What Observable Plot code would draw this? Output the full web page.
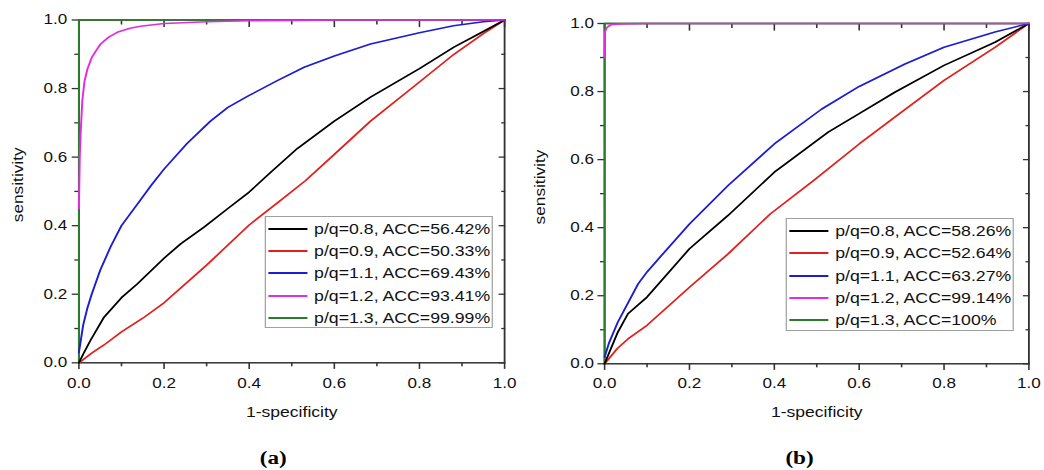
<!DOCTYPE html>
<html>
<head>
<meta charset="utf-8">
<script src="https://cdn.jsdelivr.net/npm/d3@7"></script>
<script src="https://cdn.jsdelivr.net/npm/@observablehq/plot@0.6"></script>
<style>
  html, body { margin: 0; padding: 0; background: #fff; }
  #stage { position: relative; width: 855.74px; height: 470px; transform: scaleX(1.22); transform-origin: 0 0;
           font-family: "Liberation Sans", Arial, sans-serif; color: #111; }
  .panel { position: absolute; top: 0; }
  .legend { position: absolute; border: 1px solid #a0a0a0; background: #fff; box-sizing: border-box; }
  .legend .row { position: absolute; left: 0; height: 22px; display: flex; align-items: center; white-space: nowrap; }
  .legend .sw { display: inline-block; height: 0; border-top: 2px solid #000; }
  .legend .tx { font-size: 14.5px; line-height: 22px; }
</style>
</head>
<body>
<div id="stage"></div>
<script>
// ---------- data ----------
const seriesNames = ["p/q=0.8", "p/q=0.9", "p/q=1.1", "p/q=1.2", "p/q=1.3"];
const accA = ["56.42%", "50.33%", "69.43%", "93.41%", "99.99%"];
const accB = ["58.26%", "52.64%", "63.27%", "99.14%", "100%"];
const majorTicks = [0, 0.2, 0.4, 0.6, 0.8, 1.0];
const minorTicks = [0.1, 0.3, 0.5, 0.7, 0.9];

// panel (a): 1-specificity (fpr) and sensitivity (tpr)
const a08_x = [0, 0.01, 0.027, 0.059, 0.1, 0.137, 0.2, 0.239, 0.294, 0.35, 0.4, 0.45, 0.513, 0.6, 0.685, 0.8, 0.881, 0.94, 1];
const a08_y = [0, 0.025, 0.065, 0.133, 0.19, 0.23, 0.305, 0.347, 0.396, 0.45, 0.498, 0.555, 0.625, 0.705, 0.775, 0.858, 0.921, 0.96, 1];
const a09_x = [0, 0.03, 0.059, 0.1, 0.15, 0.2, 0.3, 0.4, 0.47, 0.532, 0.6, 0.685, 0.8, 0.881, 0.95, 1];
const a09_y = [0, 0.028, 0.052, 0.09, 0.13, 0.175, 0.285, 0.402, 0.47, 0.531, 0.608, 0.705, 0.819, 0.9, 0.96, 1];
const a11_x = [0, 0.01, 0.02, 0.03, 0.05, 0.075, 0.1, 0.137, 0.17, 0.2, 0.254, 0.309, 0.35, 0.4, 0.466, 0.529, 0.6, 0.685, 0.8, 0.88, 0.95, 1];
const a11_y = [0.03, 0.11, 0.16, 0.2, 0.27, 0.34, 0.4, 0.462, 0.518, 0.565, 0.64, 0.705, 0.745, 0.78, 0.823, 0.862, 0.895, 0.93, 0.963, 0.983, 0.995, 1];
const a12_x = [0, 0.002, 0.004, 0.008, 0.013, 0.02, 0.03, 0.04, 0.051, 0.07, 0.09, 0.12, 0.145, 0.2, 0.3, 0.4, 0.5, 0.6, 1];
const a12_y = [0.45, 0.6, 0.668, 0.765, 0.82, 0.857, 0.89, 0.91, 0.93, 0.95, 0.964, 0.976, 0.982, 0.99, 0.995, 0.998, 0.999, 1, 1];
const a13_x = [0, 0, 1];
const a13_y = [0, 1, 1];

// panel (b)
const b08_x = [0, 0.01, 0.03, 0.055, 0.1, 0.2, 0.291, 0.4, 0.428, 0.527, 0.6, 0.684, 0.8, 0.92, 1];
const b08_y = [0, 0.03, 0.09, 0.147, 0.196, 0.338, 0.436, 0.563, 0.589, 0.681, 0.735, 0.798, 0.877, 0.945, 1];
const b09_x = [0, 0.01, 0.03, 0.055, 0.1, 0.2, 0.291, 0.391, 0.493, 0.6, 0.684, 0.8, 0.92, 1];
const b09_y = [0, 0.015, 0.045, 0.073, 0.113, 0.225, 0.323, 0.441, 0.539, 0.646, 0.725, 0.833, 0.93, 1];
const b11_x = [0, 0.01, 0.02, 0.031, 0.079, 0.1, 0.134, 0.2, 0.291, 0.4, 0.511, 0.6, 0.708, 0.8, 0.92, 1];
const b11_y = [0.02, 0.06, 0.09, 0.122, 0.235, 0.27, 0.318, 0.411, 0.524, 0.646, 0.748, 0.815, 0.881, 0.93, 0.975, 1];
const b12_x = [0, 0.001, 0.004, 0.009, 0.017, 0.04, 0.1, 1];
const b12_y = [0.9, 0.975, 0.986, 0.992, 0.997, 0.999, 1, 1];
const b13_x = [0, 0, 1];
const b13_y = [0, 1, 1];

// ---------- styling ----------
const seriesColors = ["#000000", "#e0211d", "#1c1cd2", "#e22be2", "#2b7d2b"];
const drawOrder = [4, 1, 0, 2, 3];
const axisColor = "#333333";
const textColor = "#111111";

const stage = document.getElementById("stage");

function makePanel(xs, ys, cfg) {
  const rows = xs.flatMap((xa, i) => xa.map((x, j) => ({s: i, fpr: x, tpr: ys[i][j]})));
  const lines = drawOrder.map(i =>
    Plot.line(rows.filter(r => r.s === i), {x: "fpr", y: "tpr", stroke: seriesColors[i], strokeWidth: 1.6})
  );
  const fmt = d3.format(".1f");
  const chart = Plot.plot({
    width: cfg.width,
    height: 470,
    marginLeft: cfg.ml, marginRight: cfg.mr, marginTop: cfg.mt, marginBottom: 470 - cfg.bottom,
    x: {domain: [0, 1]},
    y: {domain: [0, 1]},
    style: {fontFamily: '"Liberation Sans", Arial, sans-serif', fontSize: "14px", background: "transparent", overflow: "visible", color: textColor},
    marks: [
      Plot.frame({stroke: axisColor, strokeWidth: 1.5}),
      Plot.axisX({anchor: "bottom", ticks: majorTicks, tickSize: 6.6, tickPadding: cfg.xpad, tickFormat: fmt, label: null, stroke: axisColor, strokeWidth: 1.3, fill: textColor, fontSize: 14}),
      Plot.axisX({anchor: "bottom", ticks: minorTicks, tickSize: 4, fill: "none", label: null, stroke: axisColor, strokeWidth: 1.3}),
      Plot.axisX({anchor: "top", ticks: majorTicks, tickSize: -6.6, fill: "none", label: null, stroke: axisColor, strokeWidth: 1.3}),
      Plot.axisX({anchor: "top", ticks: minorTicks, tickSize: -4, fill: "none", label: null, stroke: axisColor, strokeWidth: 1.3}),
      Plot.axisY({anchor: "left", ticks: majorTicks, tickSize: 5.4, tickPadding: cfg.ypad, tickFormat: fmt, label: null, stroke: axisColor, strokeWidth: 1.3, fill: textColor, fontSize: 14}),
      Plot.axisY({anchor: "left", ticks: minorTicks, tickSize: 3.3, fill: "none", label: null, stroke: axisColor, strokeWidth: 1.3}),
      Plot.axisY({anchor: "right", ticks: majorTicks, tickSize: -5.4, fill: "none", label: null, stroke: axisColor, strokeWidth: 1.3}),
      Plot.axisY({anchor: "right", ticks: minorTicks, tickSize: -3.3, fill: "none", label: null, stroke: axisColor, strokeWidth: 1.3}),
      ...lines,
      Plot.text(["1-specificity"], {text: d => d, frameAnchor: "bottom", dy: cfg.xlabDy, textAnchor: "middle", lineAnchor: "middle", fontSize: 14.4, fill: textColor}),
      Plot.text(["sensitivity"], {text: d => d, frameAnchor: "left", dx: cfg.ylabDx, dy: -6.6, rotate: -90, textAnchor: "middle", lineAnchor: "middle", fontSize: 14.4, fill: textColor}),
      Plot.text([cfg.caption], {text: d => d, frameAnchor: "bottom", dx: cfg.capDx, dy: cfg.capDy, textAnchor: "middle", lineAnchor: "middle",
        fontFamily: '"Liberation Serif", "Times New Roman", serif', fontWeight: "bold", fontSize: 19, fill: "#000"})
    ]
  });
  // the rotated label keeps its wide glyphs along its own direction
  chart.querySelectorAll("text").forEach(t => {
    if (t.textContent === "sensitivity") {
      const tr = t.getAttribute("transform") || "";
      t.setAttribute("transform", tr + " scale(1.2, 0.82)");
    }
  });
  const holder = document.createElement("div");
  holder.className = "panel";
  holder.style.left = cfg.left + "px";
  holder.appendChild(chart);
  stage.appendChild(holder);

  // legend
  const lg = document.createElement("div");
  lg.className = "legend";
  lg.style.left = cfg.lgLeft + "px";
  lg.style.top = cfg.lgTop + "px";
  lg.style.width = "187.1px";
  lg.style.height = "112.4px";
  seriesNames.forEach((name, i) => {
    const row = document.createElement("div");
    row.className = "row";
    row.style.top = (12 + i * 22.2 - 11) + "px";
    const sw = document.createElement("span");
    sw.className = "sw";
    sw.style.marginLeft = "1.9px";
    sw.style.width = "32px";
    sw.style.borderTopColor = seriesColors[i];
    const tx = document.createElement("span");
    tx.className = "tx";
    tx.style.marginLeft = "5.4px";
    tx.textContent = `${name}, ACC=${cfg.acc[i]}`;
    row.appendChild(sw);
    row.appendChild(tx);
    lg.appendChild(row);
  });
  stage.appendChild(lg);
}

makePanel(
  [a08_x, a09_x, a11_x, a12_x, a13_x],
  [a08_y, a09_y, a11_y, a12_y, a13_y],
  {left: 0, width: 428, ml: 64.18, mr: 14.89, mt: 19.5, bottom: 362.3, xpad: 8.4, ypad: 4.1,
   xlabDy: 49.7, ylabDx: -49.2, capDx: -15.1, capDy: 94.7, caption: "(a)",
   lgLeft: 217.2, lgTop: 216, acc: accA}
);
makePanel(
  [b08_x, b09_x, b11_x, b12_x, b13_x],
  [b08_y, b09_y, b11_y, b12_y, b13_y],
  {left: 428, width: 427.74, ml: 67.08, mr: 12.87, mt: 23, bottom: 363.3, xpad: 7.4, ypad: 3.4,
   xlabDy: 48.7, ylabDx: -52.5, capDx: -14.1, capDy: 93.7, caption: "(b)",
   lgLeft: 644.3, lgTop: 218.3, acc: accB}
);
</script>
</body>
</html>
